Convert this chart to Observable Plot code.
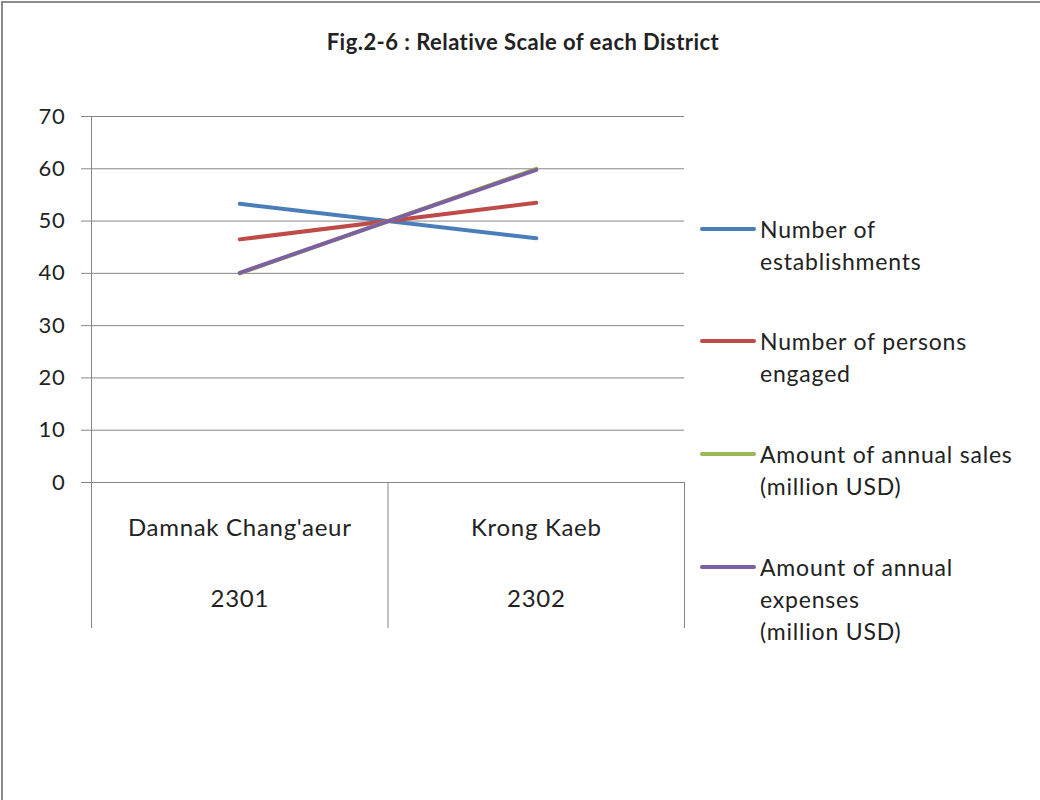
<!DOCTYPE html>
<html>
<head>
<meta charset="utf-8">
<script src="https://cdn.jsdelivr.net/npm/d3@7"></script>
<script src="https://cdn.jsdelivr.net/npm/@observablehq/plot@0.6"></script>
<style>
  html, body { margin: 0; padding: 0; background: #fff; }
  #wrap { position: relative; width: 1040px; height: 800px; overflow: hidden; font-family: Lato, "Open Sans", sans-serif; color: #222; }
  #frame { position: absolute; left: 1px; top: 1px; right: -10px; bottom: -10px; border-top: 2px solid #8a8a8a; border-left: 2px solid #8a8a8a; pointer-events: none; }
  #title { position: absolute; left: 0; width: 1046px; top: 28px; text-align: center; font-weight: bold; font-size: 22px; letter-spacing: 0.45px; color: #222; }
  #chart { position: absolute; left: 0; top: 0; }
  .leg { position: absolute; left: 700px; }
  .leg .sw { position: absolute; left: 0; width: 56px; height: 4px; border-radius: 2px; top: 14px; }
  .leg .tx { position: absolute; left: 60px; font-size: 23px; letter-spacing: 0.8px; line-height: 32px; white-space: nowrap; overflow: hidden; }
</style>
</head>
<body>
<div id="wrap">
  <div id="title">Fig.2-6 : Relative Scale of each District</div>
  <div id="chart"></div>
  <div id="legend"></div>
  <div id="frame"></div>
</div>
<script>
const categories = ["Damnak Chang'aeur", "Krong Kaeb"];
const codes = ["2301", "2302"];
const seriesNames = [
  "Number of establishments",
  "Number of persons engaged",
  "Amount of annual sales (million USD)",
  "Amount of annual expenses (million USD)"
];
const legendLines = [
  ["Number of", "establishments"],
  ["Number of persons", "engaged"],
  ["Amount of annual sales", "(million USD)"],
  ["Amount of annual", "expenses", "(million USD)"]
];
const establishments = [53.3, 46.7];
const persons = [46.5, 53.5];
const sales = [40.0, 60.0];
const expenses = [40.1, 59.8];
const yTicks = [0, 10, 20, 30, 40, 50, 60, 70];
const colors = ["#4a7ebb", "#be4b48", "#98b954", "#7d60a0"];

const seriesValues = [establishments, persons, sales, expenses];
const rows = [];
seriesValues.forEach((vals, s) => {
  vals.forEach((v, i) => rows.push({series: seriesNames[s], xi: i + 0.5, value: v}));
});

const grid = "#868686";
const chart = Plot.plot({
  width: 1040,
  height: 800,
  marginLeft: 91,
  marginRight: 356,
  marginTop: 116,
  marginBottom: 318,
  x: {type: "linear", domain: [0, categories.length], axis: null},
  y: {domain: [0, 70], axis: null},
  color: {domain: seriesNames, range: colors},
  style: {fontFamily: "Lato, 'Open Sans', sans-serif", background: "transparent", overflow: "visible", letterSpacing: "0.7px"},
  marks: [
    Plot.ruleY(yTicks, {stroke: grid, strokeWidth: 1, insetLeft: -10}),
    Plot.ruleX([0], {stroke: grid, strokeWidth: 1, insetBottom: -146}),
    Plot.ruleX(d3.range(1, categories.length + 1), {stroke: grid, strokeWidth: 1, insetTop: 366, insetBottom: -146}),
    Plot.text(yTicks, {y: d => d, frameAnchor: "left", dx: -26, textAnchor: "end", fontSize: 22, fill: "#222"}),
    Plot.line(rows, {x: "xi", y: "value", z: "series", stroke: "series", strokeWidth: 4, strokeLinecap: "round"}),
    Plot.text(categories, {x: (d, i) => i + 0.5, y: () => 0, dy: 46, fontSize: 24, fill: "#222"}),
    Plot.text(codes, {x: (d, i) => i + 0.5, y: () => 0, dy: 117, fontSize: 24, fill: "#222"})
  ]
});
document.getElementById("chart").appendChild(chart);

const legendTops = [213, 325, 438, 551];
const legend = document.getElementById("legend");
legendLines.forEach((lines, i) => {
  const item = document.createElement("div");
  item.className = "leg";
  item.style.top = legendTops[i] + "px";
  const sw = document.createElement("div");
  sw.className = "sw";
  sw.style.background = colors[i];
  item.appendChild(sw);
  const tx = document.createElement("div");
  tx.className = "tx";
  tx.style.top = "0px";
  if (i === 0) tx.style.height = "58px";
  tx.innerHTML = lines.join("<br>");
  item.appendChild(tx);
  legend.appendChild(item);
});
</script>
</body>
</html>
